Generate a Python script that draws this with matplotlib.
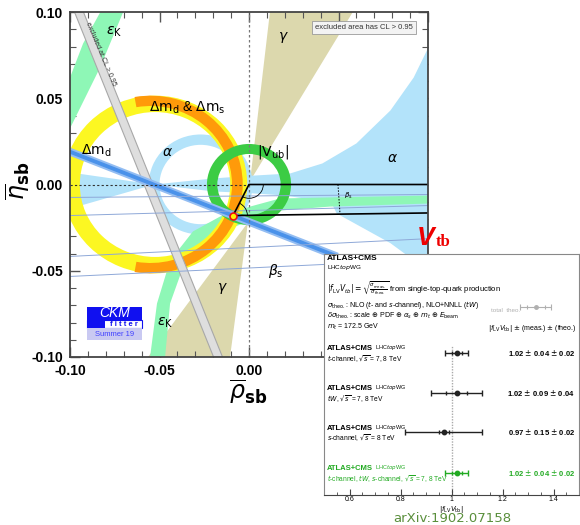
import numpy as np
import matplotlib
matplotlib.use('Agg')
import matplotlib.pyplot as plt
from matplotlib.patches import Polygon, Wedge, Rectangle, Arc
from matplotlib.ticker import MultipleLocator

plt.rcParams['font.family'] = ['Liberation Sans', 'DejaVu Sans']
plt.rcParams['mathtext.fontset'] = 'dejavusans'
plt.rcParams['axes.unicode_minus'] = False

# ---------------- CKM constraints in the (rho_sb, eta_sb) plane ----------------
apex = (-0.0089, -0.018)                      # fitted apex

# gamma: two wedges (apex, edge x at eta=+-0.1)
gam_up_apex = (0.0006, 0.002)
gam_up_x = [0.0117, 0.058]
gam_lo_apex = (-0.0006, -0.022)
gam_lo_x = [-0.0106, -0.0564]

# alpha: main band + left wedge + loop
alpha_up_x = [-0.053, -0.02, 0.0, 0.023, 0.041, 0.060, 0.079, 0.092, 0.1]
alpha_up_y = [0.0, 0.0035, 0.005, 0.0064, 0.0122, 0.0238, 0.0429, 0.062, 0.079]
alpha_lo_x = [0.1, 0.079, 0.049, 0.046, 0.02, 0.0, -0.02, -0.053]
alpha_lo_y = [-0.05, -0.034, -0.0168, -0.0105, -0.0064, -0.005, -0.004, 0.0]
alpha_wedge_x = [-0.053, -0.1, -0.1]
alpha_wedge_y = [0.0, 0.007, -0.014]
alpha_loop = (-0.027, 0.0, 0.023, 0.029)      # cx, cy, r_in, r_out

# epsilon_K: two branches (edges)
ek1_a_x = [-0.081, -0.0832, -0.0927, -0.1, -0.1056]
ek1_a_y = [0.107, 0.0997, 0.0817, 0.062, 0.0487]
ek1_b_x = [-0.0676, -0.0704, -0.0832, -0.1, -0.1056]
ek1_b_y = [0.107, 0.0997, 0.0678, 0.0325, 0.0226]
ek2_a_x = [0.11, 0.1011, 0.0453, 0.0173, 0.0006, -0.0162, -0.0313, -0.0441, -0.0514, -0.0553, -0.056]
ek2_a_y = [-0.0063, -0.0064, -0.0075, -0.0081, -0.0128, -0.0186, -0.0272, -0.0441, -0.069, -0.1003, -0.11]
ek2_b_x = [0.11, 0.1011, 0.0453, 0.0173, 0.0006, -0.0089, -0.0257, -0.0369, -0.0441, -0.0469, -0.0475]
ek2_b_y = [-0.011, -0.011, -0.0128, -0.0151, -0.0209, -0.0249, -0.0342, -0.0481, -0.069, -0.1003, -0.11]

dmd_ring = (-0.0525, 0.0, 0.042, 0.0515)      # cx, cy, r_in, r_out
dms_arc = (-0.055, 0.0, 0.0455, 0.0515, -100, 100)
vub_ring = (0.0, 0.0, 0.0177, 0.0235)

excl_x = [-0.095, -0.0173]                    # excluded band centre at eta=+0.1 / -0.1
excl_y = [0.1, -0.1]

s2b_x = [-0.1, 0.05]
s2b_y = [0.019, -0.042]

bs_lines_left = [-0.0075, -0.018, -0.0417, -0.0533]   # eta at rho=-0.1
bs_lines_right = [-0.0058, -0.0122, -0.0314, -0.0435]  # eta at rho=+0.1

# ---------------- |f_LV Vtb| summary ----------------
vtb_val = [1.02, 1.02, 0.97, 1.02]
vtb_meas = [0.04, 0.09, 0.15, 0.04]
vtb_theo = [0.02, 0.04, 0.02, 0.02]
vtb_chan = [r'$t$-channel, $\sqrt{s}$ = 7, 8 TeV',
            r'$tW$, $\sqrt{s}$ = 7, 8 TeV',
            r'$s$-channel, $\sqrt{s}$ = 8 TeV',
            r'$t$-channel, $tW$, $s$-channel, $\sqrt{s}$ = 7, 8 TeV']

fig = plt.figure(figsize=(5.8, 5.25), dpi=100)
ax = fig.add_axes([70/580, 1-357/525, 358/580, 345/525])
ax.set_xlim(-0.1, 0.1)
ax.set_ylim(-0.1, 0.1)

c_tan = '#dcd8ad'
c_alpha = '#b3e3fa'
c_ek = '#8ef7b6'

ax.add_patch(Polygon([gam_up_apex, (gam_up_x[0], 0.1), (gam_up_x[1], 0.1)], fc=c_tan, ec='none', zorder=1))
ax.add_patch(Polygon([gam_lo_apex, (gam_lo_x[0], -0.1), (gam_lo_x[1], -0.1)], fc=c_tan, ec='none', zorder=1))

ax.add_patch(Polygon(list(zip(alpha_up_x + alpha_lo_x, alpha_up_y + alpha_lo_y)), fc=c_alpha, ec='none', zorder=2))
ax.add_patch(Polygon(list(zip(alpha_wedge_x, alpha_wedge_y)), fc=c_alpha, ec='none', zorder=2))
cx, cy, ri, ro = alpha_loop
ax.add_patch(Wedge((cx, cy), ro, 0, 360, width=ro-ri, fc=c_alpha, ec='none', zorder=2))

ax.add_patch(Polygon(list(zip(ek1_a_x + ek1_b_x[::-1], ek1_a_y + ek1_b_y[::-1])), fc=c_ek, ec='none', zorder=3))
ax.add_patch(Polygon(list(zip(ek2_a_x + ek2_b_x[::-1], ek2_a_y + ek2_b_y[::-1])), fc=c_ek, ec='none', zorder=3))

cx, cy, ri, ro = dmd_ring
ax.add_patch(Wedge((cx, cy), ro, 0, 360, width=ro-ri, fc='#fcf722', ec='none', zorder=4))
cx, cy, ri, ro, t1, t2 = dms_arc
ax.add_patch(Wedge((cx, cy), ro, t1, t2, width=ro-ri, fc='#ff9a0a', ec='none', zorder=5))
cx, cy, ri, ro = vub_ring
ax.add_patch(Wedge((cx, cy), ro, 0, 360, width=ro-ri, fc='#3ccc44', ec='none', zorder=6))

# excluded band
hw = 0.0025
ax.add_patch(Polygon([(excl_x[0]-hw, excl_y[0]), (excl_x[0]+hw, excl_y[0]),
                      (excl_x[1]+hw, excl_y[1]), (excl_x[1]-hw, excl_y[1])],
                     fc='#dedede', ec='#a8a8a8', lw=0.8, zorder=7))
ax.text(-0.0826, 0.0754, 'excluded at CL > 0.95', rotation=-67.2, fontsize=5,
        color='#333333', ha='center', va='center', rotation_mode='anchor', zorder=8)

# sin2beta-like band
for hw, col in [(0.0024, '#93bdf2'), (0.0012, '#4a92ea')]:
    ax.add_patch(Polygon([(s2b_x[0], s2b_y[0]+hw), (s2b_x[1], s2b_y[1]+hw),
                          (s2b_x[1], s2b_y[1]-hw), (s2b_x[0], s2b_y[0]-hw)],
                         fc=col, ec='none', zorder=8))

for yl, yr in zip(bs_lines_left, bs_lines_right):
    ax.plot([-0.1, 0.1], [yl, yr], color='#8ea8d8', lw=0.7, zorder=9)

# axes guides
ax.axvline(0.0, color='#777777', lw=0.9, ls=(0, (2, 2)), zorder=9)
ax.plot([-0.1, 0.0], [0.0, 0.0], color='#333333', lw=0.8, ls=(0, (2, 2)), zorder=9)

# triangle
ax.plot([apex[0], 0.0, 0.1], [apex[1], 0.0, 0.0], color='black', lw=1.2, zorder=10)
ax.plot([apex[0], 0.1], [apex[1], -0.0165], color='black', lw=1.2, zorder=10)
ax.add_patch(Arc((0, 0), 0.016, 0.016, theta1=-116, theta2=0, color='black', lw=0.6, zorder=10))
ax.add_patch(Arc(apex, 0.016, 0.016, theta1=1, theta2=63, color='black', lw=0.6, zorder=10))
ax.plot([0.0497, 0.0508], [0.0, -0.0163], color='black', lw=0.7, ls=(0, (1.5, 1.5)), zorder=10)
ax.text(0.0553, -0.0064, r'$\beta_\mathrm{s}$', fontsize=5, ha='center', va='center', zorder=11)
ax.plot(*apex, 'o', ms=5, mfc='#ffee00', mec='#ee1111', mew=1.2, zorder=11)

# labels
lab = dict(fontsize=10, ha='center', va='center', zorder=12)
ax.text(-0.0754, 0.0887, r'$\varepsilon_\mathrm{K}$', **lab)
ax.text(-0.0469, -0.080, r'$\varepsilon_\mathrm{K}$', **lab)
ax.text(-0.0346, 0.0446, r'$\Delta\mathrm{m_d}$ & $\Delta\mathrm{m_s}$', **lab)
ax.text(-0.0855, 0.0197, r'$\Delta\mathrm{m_d}$', **lab)
ax.text(-0.0458, 0.0186, r'$\alpha$', **lab)
ax.text(0.0804, 0.0151, r'$\alpha$', **lab)
ax.text(0.0134, 0.0186, r'$|\mathrm{V_{ub}}|$', **lab)
ax.text(0.019, 0.0852, r'$\gamma$', **lab)
ax.text(-0.0151, -0.0603, r'$\gamma$', **lab)
ax.text(0.0151, -0.0499, r'$\beta_\mathrm{s}$', **lab)
ax.text(0.0642, 0.091, 'excluded area has CL > 0.95', fontsize=5.5, ha='center', va='center',
        color='#333333', zorder=12,
        bbox=dict(boxstyle='square,pad=0.35', fc='#f3f3f3', ec='#9a9a9a', lw=0.6))

# CKMfitter logo
tA = ax.transAxes
ax.add_patch(Rectangle((0.0475, 0.107), 0.154, 0.038, transform=tA, fc='#1010f0', ec='none', zorder=12))
ax.add_patch(Rectangle((0.0475, 0.084), 0.154, 0.023, transform=tA, fc='white', ec='#1010f0', lw=0.8, zorder=12))
ax.add_patch(Rectangle((0.0475, 0.084), 0.05, 0.023, transform=tA, fc='#1010f0', ec='none', zorder=12))
ax.add_patch(Rectangle((0.0475, 0.049), 0.154, 0.034, transform=tA, fc='#c9c9f2', ec='none', zorder=12))
ax.text(0.124, 0.127, 'CKM', transform=tA, fontsize=10, style='italic', color='white',
        ha='center', va='center', zorder=13)
ax.text(0.15, 0.0955, 'f i t t e r', transform=tA, fontsize=5.5, fontweight='bold', color='#1010f0',
        ha='center', va='center', zorder=13)
ax.text(0.124, 0.066, 'Summer 19', transform=tA, fontsize=5.5, color='#4040ff',
        ha='center', va='center', zorder=13)

# axes styling
ticks = [-0.1, -0.05, 0.0, 0.05, 0.1]
tlabels = ['-0.10', '-0.05', '0.00', '0.05', '0.10']
ax.set_xticks(ticks, labels=tlabels, fontsize=10, fontweight='bold')
ax.set_yticks(ticks, labels=tlabels, fontsize=10, fontweight='bold')
ax.xaxis.set_minor_locator(MultipleLocator(0.01))
ax.yaxis.set_minor_locator(MultipleLocator(0.01))
ax.tick_params(which='both', direction='in', top=True, right=True, color='#555555')
ax.tick_params(which='major', length=7, width=1.0, pad=5)
ax.tick_params(which='minor', length=4, width=0.8)
for s in ax.spines.values():
    s.set_color('#444444')
    s.set_linewidth(1.3)
    s.set_zorder(20)
ax.set_xlabel(r'$\overline{\rho}_{\mathbf{sb}}$', fontsize=17)
ax.xaxis.set_label_coords(0.497, -0.062)
ax.set_ylabel(r'$\overline{\eta}_{\mathbf{sb}}$', fontsize=17)
ax.yaxis.set_label_coords(-0.106, 0.51)

# Vtb tag
fig.text(417/580, 1-245/525, 'V', fontsize=19, fontweight='bold', style='italic', color='#ee0000',
         ha='left', va='baseline', family='Liberation Sans')
fig.text(436/580, 1-246/525, 'tb', fontsize=12, fontweight='bold', color='#ee0000',
         ha='left', va='baseline', family='Liberation Serif')

# ---------------- inset ----------------
ax2 = fig.add_axes([324/580, 1-495/525, 255/580, 241/525], zorder=30)
ax2.set_facecolor('white')
ax2.set_xlim(0.5, 1.5)
ax2.set_ylim(0, 241)
for s in ['left', 'top', 'right']:
    ax2.spines[s].set_color('#888888')
    ax2.spines[s].set_linewidth(0.8)
ax2.spines['bottom'].set_color('#444444')
ax2.set_yticks([])
ax2.set_xticks([0.6, 0.8, 1.0, 1.2, 1.4], labels=['0.6', '0.8', '1', '1.2', '1.4'], fontsize=5)
ax2.xaxis.set_minor_locator(MultipleLocator(0.05))
ax2.tick_params(axis='x', which='both', direction='in', color='#444444', pad=0.5)
ax2.tick_params(axis='x', which='major', length=4)
ax2.tick_params(axis='x', which='minor', length=2)
ax2.set_xlabel(r'$|f_{\rm LV}V_{\rm tb}|$', fontsize=5)
ax2.xaxis.set_label_coords(0.5, -0.036)

ax2.plot([1.0, 1.0], [0, 150], color='#aaaaaa', lw=1.0, ls=(0, (1, 1)), zorder=1)

tx = 0.512
ax2.text(tx, 237, 'ATLAS+CMS', fontsize=6, fontweight='bold', va='center')
ax2.text(tx, 227, r'LHC$\it{top}$WG', fontsize=4.5, va='center')
ax2.text(tx, 207, r'$|f_{\rm LV}V_{tb}| = \sqrt{\frac{\sigma_{\rm meas.}}{\sigma_{\rm theo.}}}$ from single-top-quark production',
         fontsize=5.5, va='center')
ax2.text(tx, 190, r'$\sigma_{\rm theo.}$: NLO ($t$- and $s$-channel), NLO+NNLL ($tW$)', fontsize=5, va='center')
ax2.text(tx, 179, r'$\delta\sigma_{\rm theo.}$: scale $\oplus$ PDF $\oplus$ $\alpha_s$ $\oplus$ $m_t$ $\oplus$ $E_{\rm beam}$',
         fontsize=5, va='center')
ax2.text(tx, 168, r'$m_t$ = 172.5 GeV', fontsize=5, va='center')
ax2.text(1.492, 167, r'$|f_{\rm LV}V_{\rm tb}|$ $\pm$ (meas.) $\pm$ (theo.)', fontsize=5, va='center', ha='right')

# legend marker
leg_v, leg_tot, leg_th = 1.33, 0.06, 0.035
ax2.errorbar(leg_v, 188, xerr=leg_tot, fmt='o', ms=2.5, color='#b0b0b0', capsize=2, elinewidth=0.8, capthick=0.8)
ax2.plot([leg_v-leg_th, leg_v+leg_th], [188, 188], '|', ms=3, color='#b0b0b0', mew=0.8)
ax2.text(1.27, 184, 'total  theo.', fontsize=4.5, color='#b0b0b0', ha='right', va='center')

row_y = [142, 102, 63, 22]
for i, (v, m, t, ch, y) in enumerate(zip(vtb_val, vtb_meas, vtb_theo, vtb_chan, row_y)):
    col = '#22aa22' if i == len(vtb_val) - 1 else '#222222'
    tcol = '#22aa22' if i == len(vtb_val) - 1 else 'black'
    tot = np.hypot(m, t)
    ax2.errorbar(v, y, xerr=tot, fmt='o', ms=3.2, color=col, capsize=2.2, elinewidth=1.0, capthick=1.0, zorder=3)
    ax2.plot([v-t, v+t], [y, y], '|', ms=3.5, color=col, mew=1.0, zorder=3)
    ax2.text(tx, y+4, 'ATLAS+CMS', fontsize=5.5, fontweight='bold', color=tcol, va='center')
    ax2.text(0.699, y+5, r'LHC$\it{top}$WG', fontsize=4, color=tcol, va='center')
    ax2.text(tx, y-6, ch, fontsize=4.8, color=tcol, va='center')
    ax2.text(1.485, y, f'{v:.2f} $\\pm$ {m:.2f} $\\pm$ {t:.2f}', fontsize=5.5, fontweight='bold',
             color=tcol, ha='right', va='center')

fig.text(452/580, 0.0, 'arXiv:1902.07158', fontsize=9.5, color='#5a8f3c',
         ha='center', va='bottom', family='DejaVu Sans')

fig.savefig('out.png', dpi=100)
